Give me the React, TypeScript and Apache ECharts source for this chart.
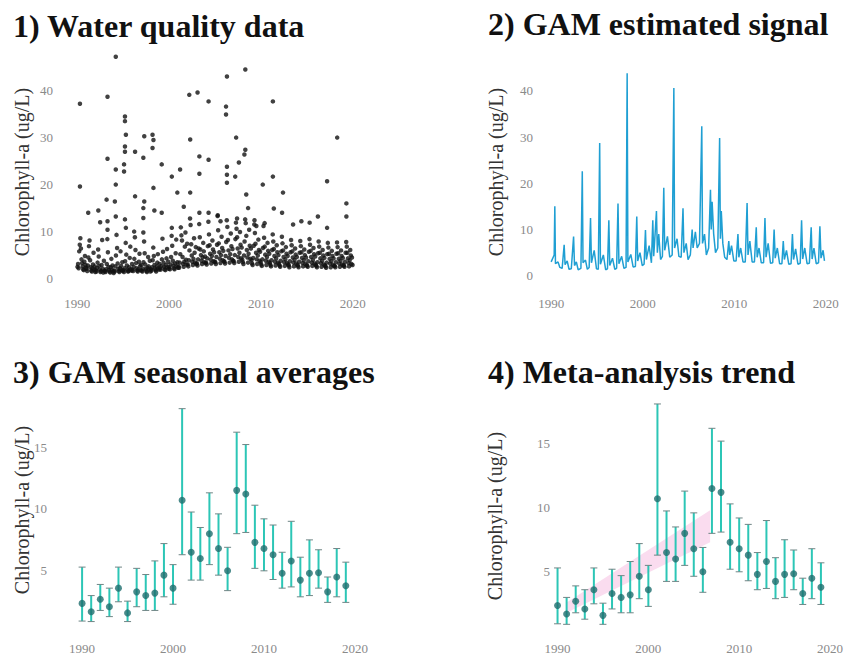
import React, { useEffect, useRef } from "react";
import * as echarts from "echarts";

// ---------- Panel 1: observed samples ----------
const obsStartYear = 1990;
const obsByYear: number[][] = [
  [2.5, 3.1, 2.2, 5.8, 7.2, 8.6, 6.4, 4.1, 3.3, 2.6, 2.0, 1.8, 3.6, 4.8, 2.9, 2.3],
  [2.1, 1.6, 2.8, 4.5, 6.9, 8.1, 3.9, 2.4, 1.7, 1.5, 2.2, 3.0, 5.5, 1.9, 2.6, 1.4],
  [1.8, 1.5, 2.3, 3.4, 6.2, 4.7, 2.7, 1.9, 1.4, 1.6, 2.9, 8.2, 2.1, 1.3, 3.8, 1.7],
  [1.6, 1.4, 2.0, 3.1, 8.4, 5.6, 2.5, 1.8, 1.5, 1.3, 2.4, 4.2, 1.9, 2.8, 1.5, 1.2],
  [1.7, 1.5, 2.6, 4.9, 9.3, 6.5, 3.2, 2.1, 1.6, 1.4, 2.2, 5.8, 2.7, 1.8, 3.5, 1.6],
  [1.8, 1.4, 2.2, 3.7, 7.6, 5.1, 2.8, 1.9, 1.5, 1.6, 2.4, 4.4, 6.8, 2.0, 1.7, 3.1],
  [1.9, 1.6, 2.5, 4.2, 8.8, 6.1, 3.3, 2.2, 1.7, 1.5, 2.0, 3.6, 5.3, 2.7, 1.8, 2.9],
  [1.7, 1.5, 2.1, 3.5, 7.9, 5.4, 3.0, 2.0, 1.6, 1.4, 2.3, 4.6, 2.6, 1.9, 3.8, 1.5],
  [2.0, 1.7, 2.4, 3.9, 6.6, 4.8, 2.9, 2.1, 1.8, 1.5, 2.6, 3.4, 5.2, 2.2, 1.9, 3.1],
  [2.2, 1.9, 2.7, 4.1, 8.5, 5.7, 3.4, 2.5, 2.0, 1.8, 2.9, 4.3, 6.3, 2.4, 3.6, 2.1],
  [2.4, 2.0, 3.0, 4.6, 9.1, 7.0, 3.8, 2.8, 2.2, 2.0, 3.2, 5.4, 8.3, 2.6, 3.5, 2.3],
  [2.6, 2.3, 3.4, 5.2, 10.9, 9.2, 8.1, 4.6, 3.1, 2.5, 3.6, 6.8, 9.8, 4.0, 3.0, 7.4],
  [3.0, 2.6, 3.9, 6.0, 12.8, 11.4, 7.3, 4.9, 3.6, 2.9, 4.2, 8.6, 5.5, 3.4, 6.7, 3.1],
  [3.2, 2.8, 4.1, 6.4, 11.6, 8.8, 6.2, 5.0, 3.8, 3.1, 4.5, 7.6, 5.8, 3.5, 4.7, 3.3],
  [3.4, 3.0, 4.3, 6.9, 12.1, 9.4, 7.1, 5.3, 4.0, 3.2, 4.8, 8.1, 6.2, 3.7, 5.6, 3.6],
  [3.5, 3.1, 4.6, 7.2, 13.3, 10.3, 7.5, 5.6, 4.2, 3.3, 5.0, 8.9, 6.5, 3.9, 5.9, 3.7],
  [3.6, 3.2, 4.8, 7.8, 12.4, 11.0, 8.2, 6.0, 4.4, 3.4, 5.2, 9.6, 6.9, 4.1, 6.3, 3.8],
  [3.7, 3.3, 5.0, 8.4, 11.9, 10.6, 8.8, 6.4, 4.6, 3.6, 5.5, 9.9, 7.2, 4.3, 6.6, 4.0],
  [3.5, 3.1, 4.9, 7.9, 12.6, 11.8, 9.1, 6.1, 4.5, 3.4, 5.3, 10.4, 7.0, 4.2, 6.4, 3.9],
  [3.2, 2.9, 4.4, 7.0, 11.5, 9.7, 7.4, 5.5, 4.1, 3.1, 4.9, 8.3, 6.1, 3.8, 5.7, 3.5],
  [3.0, 2.7, 4.1, 6.5, 11.2, 8.7, 6.8, 5.1, 3.8, 2.9, 4.6, 7.6, 5.9, 3.6, 5.3, 3.3],
  [2.9, 2.6, 3.9, 6.1, 9.4, 7.9, 6.3, 4.8, 3.6, 2.8, 4.3, 7.1, 5.6, 3.4, 5.0, 3.1],
  [2.8, 2.5, 3.8, 5.8, 8.9, 7.5, 6.0, 4.6, 3.5, 2.7, 4.1, 6.7, 5.3, 3.3, 4.8, 3.0],
  [2.8, 2.4, 3.7, 5.6, 8.2, 7.1, 5.8, 4.5, 3.4, 2.6, 4.0, 6.4, 5.1, 3.2, 4.6, 2.9],
  [2.7, 2.4, 3.6, 5.5, 8.0, 6.9, 5.6, 4.4, 3.3, 2.6, 3.9, 6.2, 5.0, 3.1, 4.5, 2.8],
  [2.8, 2.5, 3.7, 5.7, 8.4, 7.2, 5.9, 4.6, 3.4, 2.7, 4.0, 6.5, 5.2, 3.2, 4.7, 2.9],
  [2.7, 2.4, 3.5, 5.4, 7.9, 6.8, 5.5, 4.3, 3.3, 2.5, 3.8, 6.1, 4.9, 3.0, 4.4, 2.8],
  [2.6, 2.3, 3.4, 5.2, 7.6, 6.6, 5.3, 4.2, 3.2, 2.4, 3.7, 5.9, 4.8, 2.9, 4.3, 2.7],
  [2.7, 2.4, 3.5, 5.3, 7.7, 6.7, 5.4, 4.2, 3.2, 2.5, 3.8, 6.0, 4.8, 3.0, 4.4, 2.8],
  [2.8, 2.5, 3.6, 5.5, 7.8, 6.8, 5.5, 4.3, 3.3, 2.6, 3.9, 6.1, 4.9, 3.1, 4.5, 2.9],
];
const peakSamples: [number, number][] = [
  [1990.3, 37.2], [1990.3, 19.6], [1994.2, 47.2], [1993.3, 38.7], [1993.3, 25.5], [1993.2, 16.8],
  [1994.2, 23.2], [1994.2, 20], [1994.1, 16.4], [1991.2, 14], [1992.3, 14.5], [1992.5, 12],
  [1993.3, 12.2], [1993.3, 10.4], [1994.2, 13.2], [1995.2, 34.5], [1995.2, 33.5], [1995.3, 30.6],
  [1995.2, 28.1], [1995.2, 27], [1995.1, 24.3], [1995.1, 22.8], [1995.2, 12.6], [1995.3, 10.8],
  [1996.3, 27], [1996.3, 17.5], [1996.2, 10], [1997.2, 25.7], [1997.3, 30.3], [1997.3, 16.4],
  [1997.2, 15], [1997.2, 12.9], [1997.2, 9.8], [1998.2, 30.6], [1998.3, 29.5], [1998.2, 27.8],
  [1998.3, 19.3], [1998.4, 14.5], [1999.2, 24.3], [1999.2, 14], [2000.3, 21.7], [2000.3, 10.8],
  [2001.2, 23.2], [2000.9, 18.3], [2001.6, 15.3], [2002.2, 39.1], [2002.3, 29.6], [2002.3, 18.3],
  [2003.1, 39.6], [2003.3, 26], [2003.3, 22.3], [2003.3, 14], [2004.3, 37.7], [2004.3, 25.3],
  [2004.3, 14], [2006.3, 43], [2006.2, 36.6], [2006.2, 34.9], [2006.3, 23.8], [2006.3, 22.1],
  [2006.3, 20.4], [2007.3, 30], [2007.2, 21.7], [2008.3, 44.5], [2008.3, 27.4], [2008.2, 26.4],
  [2007.6, 24.7], [2008.4, 17.9], [2008.6, 15], [2011.3, 37.7], [2011.3, 21.7], [2010.2, 20],
  [2011.4, 14.9], [2012.4, 18.3], [2012.3, 14], [2018.3, 30], [2017.2, 20.7], [2017.2, 10.8],
  [2016.2, 13.2], [2019.3, 16], [2019.3, 13.2], [2013.5, 11.5], [2014.4, 12.2], [2015.3, 11.9],
  [2005.3, 13.5], [2005.6, 12.2], [2009.3, 12.4], [2009.5, 11.2], [2010.4, 11.8], [2007.4, 12.8],
];

// ---------- Panel 2: GAM estimated signal ----------
const signalPoints: [number, number][] = [
  [1990.0, 3.0], [1990.33, 4.5], [1990.4, 15], [1990.47, 2.6], [1990.75, 3.0], [1990.95, 1.8],
  [1991.2, 1.6], [1991.42, 6.7], [1991.52, 2.4], [1991.75, 3.2], [1991.95, 1.4],
  [1992.2, 1.5], [1992.45, 8.5], [1992.55, 2.2], [1992.75, 3.0], [1992.95, 1.3],
  [1993.25, 1.6], [1993.4, 22.6], [1993.48, 2.8], [1993.75, 3.4], [1993.95, 1.4],
  [1994.15, 1.8], [1994.3, 12.5], [1994.4, 2.8], [1994.7, 5.5], [1994.95, 1.5],
  [1995.15, 1.4], [1995.3, 28.7], [1995.38, 2.5], [1995.7, 4.5], [1995.95, 1.3],
  [1996.15, 1.5], [1996.3, 12], [1996.4, 2.2], [1996.7, 3.8], [1996.95, 1.4],
  [1997.15, 1.6], [1997.3, 15.6], [1997.4, 2.6], [1997.7, 4.2], [1997.95, 1.6],
  [1998.18, 1.8], [1998.3, 43.8], [1998.38, 3.0], [1998.7, 4.6], [1998.95, 1.9],
  [1999.2, 2.0], [1999.35, 12.8], [1999.45, 3.2], [1999.7, 5.0], [1999.95, 2.2],
  [2000.15, 2.5], [2000.3, 9.9], [2000.4, 3.5], [2000.7, 6.5], [2000.95, 2.8],
  [2001.1, 12], [2001.2, 4.2], [2001.35, 9], [2001.5, 14], [2001.6, 5], [2001.75, 9], [2001.95, 3.5],
  [2002.15, 4.2], [2002.3, 19], [2002.4, 5.5], [2002.7, 8.5], [2002.95, 4],
  [2003.22, 4.5], [2003.4, 40.6], [2003.48, 6], [2003.75, 8], [2003.95, 4.2],
  [2004.2, 4], [2004.4, 14.6], [2004.5, 5], [2004.75, 7], [2004.95, 3.5],
  [2005.2, 4.5], [2005.4, 10], [2005.5, 6], [2005.75, 9.5], [2005.95, 6],
  [2006.2, 7], [2006.45, 32.3], [2006.53, 7], [2006.75, 9], [2006.95, 4.5],
  [2007.2, 6], [2007.4, 18.6], [2007.48, 10], [2007.58, 16], [2007.75, 9], [2007.95, 5],
  [2008.2, 6], [2008.4, 29.8], [2008.48, 8], [2008.58, 14], [2008.75, 7], [2008.95, 4],
  [2009.2, 3.5], [2009.4, 7.5], [2009.5, 4.5], [2009.7, 6.5], [2009.95, 3.2],
  [2010.2, 3.2], [2010.4, 9], [2010.5, 4], [2010.7, 6], [2010.95, 3],
  [2011.2, 3], [2011.4, 15.7], [2011.5, 4.5], [2011.7, 7.5], [2011.95, 3],
  [2012.2, 3], [2012.4, 10.5], [2012.5, 4], [2012.7, 6], [2012.95, 2.8],
  [2013.2, 2.8], [2013.35, 12.5], [2013.47, 4], [2013.7, 7], [2013.95, 2.7],
  [2014.2, 2.8], [2014.35, 10], [2014.47, 3.8], [2014.7, 6], [2014.95, 2.6],
  [2015.2, 2.6], [2015.35, 7.5], [2015.47, 3.5], [2015.7, 5.5], [2015.95, 2.5],
  [2016.2, 2.6], [2016.35, 9], [2016.47, 3.5], [2016.7, 5.8], [2016.95, 2.5],
  [2017.2, 2.7], [2017.35, 12], [2017.47, 3.6], [2017.7, 6], [2017.95, 2.6],
  [2018.2, 2.7], [2018.4, 10.5], [2018.5, 3.6], [2018.7, 6], [2018.95, 2.6],
  [2019.2, 2.8], [2019.35, 10.7], [2019.47, 3.8], [2019.7, 5.5], [2019.85, 3.2],
];

// ---------- Panels 3 & 4: seasonal averages ----------
const seasonYears = [
  1990, 1991, 1992, 1993, 1994, 1995, 1996, 1997, 1998, 1999,
  2000, 2001, 2002, 2003, 2004, 2005, 2006, 2007, 2008, 2009,
  2010, 2011, 2012, 2013, 2014, 2015, 2016, 2017, 2018, 2019,
];
const seasonMean = [2.37, 1.7, 2.7, 2.1, 3.6, 1.6, 3.3, 3.0, 3.2, 4.65, 3.6, 10.7, 6.5, 6.0, 8.0, 6.8, 5.0, 11.5, 11.2, 7.3, 6.8, 6.3, 4.8, 5.8, 4.25, 4.8, 4.85, 3.3, 4.5, 3.8];
const seasonUpper = [5.3, 3.0, 3.9, 3.6, 5.3, 2.55, 5.2, 4.7, 5.8, 7.2, 5.5, 18.1, 9.75, 8.5, 11.3, 9.6, 6.9, 16.2, 15.2, 10.3, 9.2, 8.7, 6.5, 9.0, 6.1, 7.5, 6.7, 4.5, 6.8, 5.7];
const seasonLower = [0.94, 0.9, 1.8, 1.3, 2.5, 0.9, 2.1, 1.8, 1.8, 2.9, 2.3, 6.3, 4.25, 4.25, 5.5, 4.65, 3.4, 8.0, 8.1, 5.2, 5.0, 4.3, 3.6, 3.7, 2.9, 3.0, 3.6, 2.45, 2.9, 2.45];

// Meta-analysis trend band (panel 4)
const trendYears = [1991, 2006.8];
const trendLower = [1.8, 7.3];
const trendUpper = [2.6, 9.8];

// Tick labels
const xTickValues = [1990, 2000, 2010, 2020];
const yTickTop = [0, 10, 20, 30, 40];
const yTickBottom = [5, 10, 15];

const titles = [
  "1) Water quality data",
  "2) GAM estimated signal",
  "3) GAM seasonal averages",
  "4) Meta-analysis trend",
];
const yTitle = "Chlorophyll-a (ug/L)";

const SERIF = "Liberation Serif";
const TICK_COLOR = "#8a8a8a";

export default function App() {
  const ref = useRef<HTMLDivElement>(null);

  useEffect(() => {
    if (!ref.current) return;
    const chart = echarts.init(ref.current, undefined, { renderer: "svg" });

    const obsData: [number, number][] = [];
    obsByYear.forEach((vals, yi) => {
      vals.forEach((v, i) => {
        obsData.push([obsStartYear + yi + (i + 0.5) / vals.length, v]);
      });
    });
    peakSamples.forEach((p) => obsData.push(p));

    const seasonBars = seasonYears.map((y, i) => [y, seasonLower[i], seasonUpper[i]]);
    const seasonPts = seasonYears.map((y, i) => [y, seasonMean[i]]);

    const xAxisBase = (gridIndex: number, min: number, max: number, margin: number) => ({
      type: "value",
      gridIndex,
      min,
      max,
      axisLine: { show: false },
      axisTick: { show: false },
      splitLine: { show: false },
      axisLabel: {
        customValues: xTickValues,
        color: TICK_COLOR,
        fontFamily: SERIF,
        fontSize: 13,
        margin,
        formatter: (v: number) => String(Math.round(v)),
      },
    });
    const yAxisBase = (gridIndex: number, min: number, max: number, ticks: number[], margin: number) => ({
      type: "value",
      gridIndex,
      min,
      max,
      axisLine: { show: false },
      axisTick: { show: false },
      splitLine: { show: false },
      axisLabel: {
        customValues: ticks,
        color: TICK_COLOR,
        fontFamily: SERIF,
        fontSize: 13,
        margin,
      },
    });

    const errorBarRender = (params: any, api: any) => {
      const x = api.value(0);
      const lo = api.value(1);
      const hi = api.value(2);
      const pLo = api.coord([x, lo]);
      const pHi = api.coord([x, hi]);
      const hw = 3.5;
      return {
        type: "group",
        children: [
          {
            type: "line",
            shape: { x1: pLo[0], y1: pLo[1], x2: pHi[0], y2: pHi[1] },
            style: { stroke: "#2cc6b6", lineWidth: 2 },
          },
          {
            type: "line",
            shape: { x1: pHi[0] - hw, y1: pHi[1], x2: pHi[0] + hw, y2: pHi[1] },
            style: { stroke: "#6f8585", lineWidth: 1 },
          },
          {
            type: "line",
            shape: { x1: pLo[0] - hw, y1: pLo[1], x2: pLo[0] + hw, y2: pLo[1] },
            style: { stroke: "#6f8585", lineWidth: 1 },
          },
        ],
      };
    };

    const bandRender = (params: any, api: any) => {
      const pts: number[][] = [];
      trendYears.forEach((y, i) => pts.push(api.coord([y, trendUpper[i]])));
      for (let i = trendYears.length - 1; i >= 0; i--) pts.push(api.coord([trendYears[i], trendLower[i]]));
      return {
        type: "polygon",
        shape: { points: pts },
        style: { fill: "rgba(246, 196, 228, 0.6)" },
      };
    };

    const titleText = (text: string, x: number, y: number) => ({
      type: "text",
      x,
      y,
      style: {
        text,
        fill: "#111",
        fontFamily: SERIF,
        fontSize: 32,
        fontWeight: "bold",
        textAlign: "left",
        textVerticalAlign: "middle",
      },
    });
    const axisTitle = (x: number, y: number) => ({
      type: "text",
      x,
      y,
      rotation: Math.PI / 2,
      style: {
        text: yTitle,
        fill: "#333",
        fontFamily: SERIF,
        fontSize: 20,
        textAlign: "center",
        textVerticalAlign: "middle",
      },
    });

    chart.setOption({
      animation: false,
      backgroundColor: "#ffffff",
      textStyle: { fontFamily: SERIF },
      grid: [
        { left: 68, top: 53, width: 294, height: 235 },
        { left: 542, top: 63, width: 293, height: 222 },
        { left: 73, top: 400, width: 291, height: 229 },
        { left: 553, top: 395, width: 291, height: 237 },
      ],
      xAxis: [
        xAxisBase(0, 1989, 2021, 9),
        xAxisBase(1, 1989, 2021, 12),
        xAxisBase(2, 1989, 2021, 13),
        xAxisBase(3, 1989.5, 2021, 10),
      ],
      yAxis: [
        yAxisBase(0, -2, 48, yTickTop, 15),
        yAxisBase(1, -2, 46, yTickTop, 9),
        yAxisBase(2, 0.3, 18.8, yTickBottom, 26),
        yAxisBase(3, 0.3, 18.8, yTickBottom, 3),
      ],
      graphic: [
        titleText(titles[0], 13, 26),
        titleText(titles[1], 488, 24),
        titleText(titles[2], 13, 372),
        titleText(titles[3], 488, 372),
        axisTitle(22, 172),
        axisTitle(496, 172),
        axisTitle(22, 510),
        axisTitle(495, 516),
      ],
      series: [
        {
          type: "scatter",
          xAxisIndex: 0,
          yAxisIndex: 0,
          data: obsData,
          symbolSize: 4.5,
          itemStyle: { color: "#111111" },
        },
        {
          type: "line",
          xAxisIndex: 1,
          yAxisIndex: 1,
          data: signalPoints,
          showSymbol: false,
          lineStyle: { color: "#1f9fd3", width: 1.5 },
        },
        {
          type: "custom",
          xAxisIndex: 2,
          yAxisIndex: 2,
          data: seasonBars,
          encode: { x: 0, y: [1, 2] },
          renderItem: errorBarRender,
        },
        {
          type: "scatter",
          xAxisIndex: 2,
          yAxisIndex: 2,
          data: seasonPts,
          symbolSize: 7,
          itemStyle: { color: "#1e6e6e" },
          z: 3,
        },
        {
          type: "custom",
          xAxisIndex: 3,
          yAxisIndex: 3,
          data: [[trendYears[0], trendLower[0]]],
          renderItem: bandRender,
          z: 1,
        },
        {
          type: "custom",
          xAxisIndex: 3,
          yAxisIndex: 3,
          data: seasonBars,
          encode: { x: 0, y: [1, 2] },
          renderItem: errorBarRender,
          z: 2,
        },
        {
          type: "scatter",
          xAxisIndex: 3,
          yAxisIndex: 3,
          data: seasonPts,
          symbolSize: 7,
          itemStyle: { color: "#1e6e6e" },
          z: 3,
        },
      ],
    });

    return () => chart.dispose();
  }, []);

  return (
    <div
      ref={ref}
      style={{ position: "fixed", left: 0, top: 0, width: 846, height: 658, background: "#fff" }}
    />
  );
}
